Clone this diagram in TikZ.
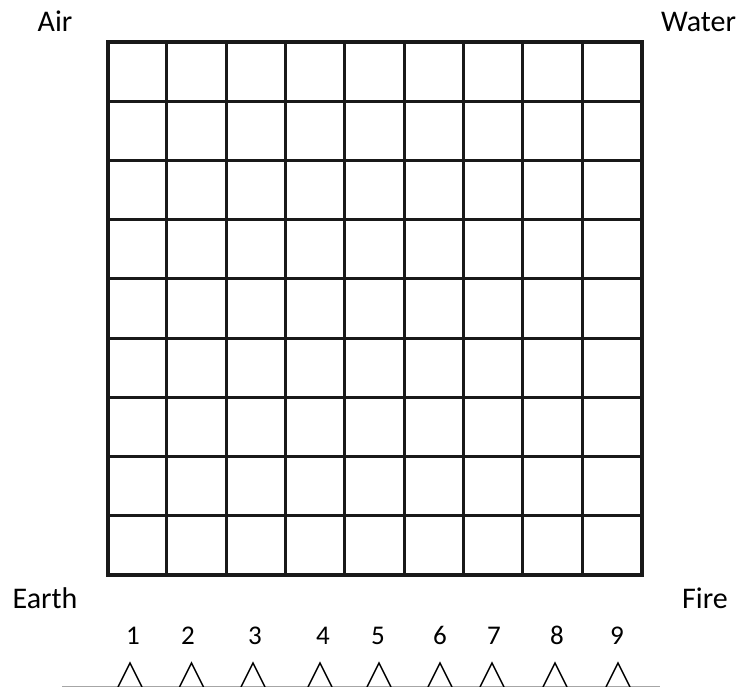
\documentclass[tikz,border=0pt]{standalone}
\usepackage{fontspec}
\setmainfont{Carlito}
\begin{document}
\begin{tikzpicture}[x=1pt,y=-1pt,
  lbl/.style={font=\fontsize{30}{30}\selectfont, anchor=base, inner sep=0pt},
  num/.style={font=\fontsize{27}{27}\selectfont, anchor=base, inner sep=0pt},
  tri/.style={line width=1.4pt, black, line join=miter},
  gridline/.style={line width=3pt, black!90},
  border/.style={line width=4pt, black!90},
  baseline/.style={line width=1pt, black!35}]
\useasboundingbox (0,0) rectangle (741,687);
% grid
\foreach \i in {1,...,8} {
  \draw[gridline] ({107.5+\i*59.33},42.5) -- ({107.5+\i*59.33},574.5);
  \draw[gridline] (107.5,{42.5+\i*59.11}) -- (641.5,{42.5+\i*59.11});
}
\draw[border] (107.5,42.5) rectangle (641.5,574.5);
% corner labels
\node[lbl] (air) at (55,32) {Air};
\node[lbl] (water) at (698.5,32) {Water};
\node[lbl] (earth) at (45,608) {Earth};
\node[lbl] (fire) at (705,608) {Fire};
% ruler
\draw[baseline] (62,686) -- (660,686);
\foreach \n/\tx/\nx in {1/130/133, 2/191.5/188, 3/253/255, 4/320/323, 5/379/378, 6/440/440, 7/492/494, 8/555/557, 9/618/617} {
  \node[num] (n\n) at (\nx,644) {\n};
  \draw[tri] (\tx-12,687) -- (\tx,663) -- (\tx+12,687);
}
\end{tikzpicture}
\end{document}
